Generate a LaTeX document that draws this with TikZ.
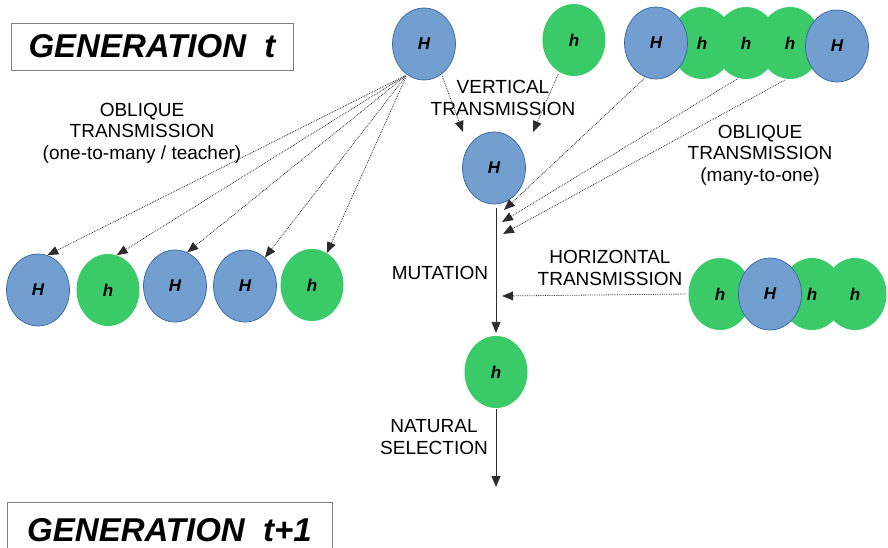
\documentclass[tikz,border=0pt]{standalone}
\usepackage{fontspec}
\setmainfont{Liberation Sans}
\usetikzlibrary{arrows.meta,shapes.geometric}
\definecolor{hblue}{RGB}{114,159,207}
\definecolor{hborder}{RGB}{52,101,164}
\definecolor{hgreen}{RGB}{58,203,104}
\definecolor{lineg}{RGB}{45,45,45}
\begin{document}
\begin{tikzpicture}[x=1pt,y=-1pt,
  cell/.style={ellipse, inner sep=0pt, minimum width=63pt, minimum height=72pt,
    font=\fontsize{17}{17}\selectfont\bfseries\itshape},
  bigH/.style={cell, fill=hblue, draw=hborder, line width=0.7pt},
  smallh/.style={cell, fill=hgreen},
  lbl/.style={align=center, font=\fontsize{19}{21.5}\selectfont, inner sep=0pt},
  genbox/.style={draw=gray, line width=0.9pt, inner sep=0pt,
    font=\fontsize{33}{33}\selectfont\bfseries\itshape},
  dotarr/.style={lineg, densely dotted, line width=0.8pt,
    -{Triangle[length=11pt,width=9pt,line width=0pt]}, shorten <=2pt},
  mainarr/.style={lineg, line width=0.9pt, -{Triangle[length=11pt,width=9pt]}}
]
\useasboundingbox (0,0) rectangle (888,548);

% generation boxes
\node[genbox, minimum width=282pt, minimum height=47pt] (gent) at (152,46.5) {GENERATION\ \ t};
\node[genbox, minimum width=325pt, minimum height=56pt] (gent1) at (169.5,530) {GENERATION\ \ t+1};

% parents
\node[bigH] (pH) at (424,44) {H};
\node[smallh] (ph) at (574,40) {h};

% top right chain (greens behind)
\node[smallh] (tg1) at (702,43) {h};
\node[smallh] (tg2) at (746,43) {h};
\node[smallh] (tg3) at (790,43) {h};
\node[bigH] (tH1) at (656,43) {H};
\node[bigH] (tH2) at (837,46) {H};

% offspring line
\node[bigH] (off) at (494,168) {H};
\node[smallh] (child) at (496,372) {h};
\coordinate (top) at (496,208);
\coordinate (end) at (496,487);
\coordinate (v1) at (463,132);
\coordinate (v2) at (533,132);
\coordinate (m1) at (504,210);
\coordinate (m2) at (502,222);
\coordinate (m3) at (503,234);
\coordinate (m4) at (502,296);

% left row
\node[bigH] (c1) at (38,290) {H};
\node[smallh] (c2) at (108,290) {h};
\node[bigH] (c3) at (175,286) {H};
\node[bigH] (c4) at (245,286) {H};
\node[smallh] (c5) at (312,285) {h};

% right chain (greens behind)
\node[smallh] (rg1) at (720,294) {h};
\node[smallh] (rg2) at (812,294) {h};
\node[smallh] (rg3) at (855,294) {h};
\node[bigH] (rH) at (770,294) {H};

% labels
\node[lbl] (lobl) at (142,133) {OBLIQUE\\TRANSMISSION\\(one-to-many / teacher)};
\node[lbl] (lvert) at (503,98) {VERTICAL\\TRANSMISSION};
\node[lbl] (lobr) at (760,155) {OBLIQUE\\TRANSMISSION\\(many-to-one)};
\node[lbl] (lhor) at (610,268) {HORIZONTAL\\TRANSMISSION};
\node[lbl] (lmut) at (440,273) {MUTATION};
\node[lbl] (lnat) at (434,437) {NATURAL\\SELECTION};

% oblique one-to-many
\draw[dotarr] (pH.241) -- (c1.75);
\draw[dotarr] (pH.241) -- (c2.76);
\draw[dotarr] (pH.241) -- (c3.70);
\draw[dotarr] (pH.241) -- (c4.55);
\draw[dotarr] (pH.241) -- (c5.65);

% vertical
\draw[dotarr] (pH.300) -- (v1);
\draw[dotarr] (ph.245) -- (v2);

% oblique many-to-one
\draw[dotarr] (tH1.253) -- (m1);
\draw[dotarr] (tg2.258) -- (m2);
\draw[dotarr] (tg3.265) -- (m3);

% horizontal
\draw[dotarr] (rg1.west) -- (m4);

% main
\draw[mainarr, shorten >=3pt] (top) -- (child.north);
\draw[mainarr, shorten <=1pt] (child.south) -- (end);
\end{tikzpicture}
\end{document}
